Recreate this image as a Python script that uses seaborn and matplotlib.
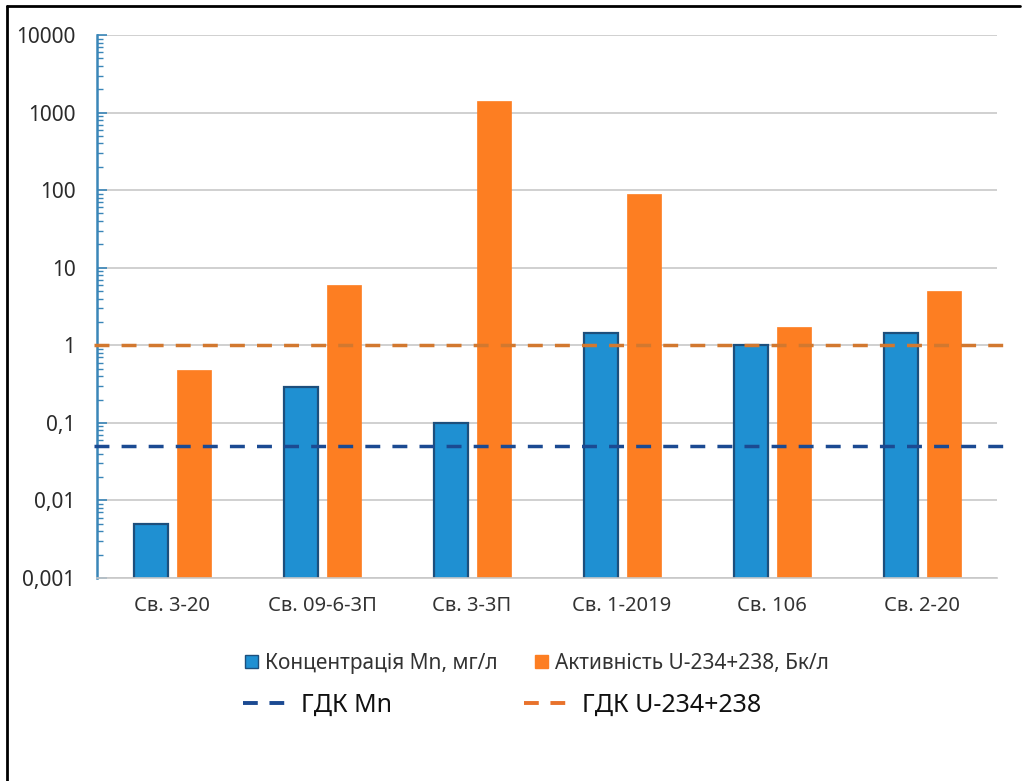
import matplotlib
matplotlib.use("Agg")
import matplotlib.pyplot as plt
from matplotlib.patches import Patch
from matplotlib.lines import Line2D
from matplotlib.ticker import LogLocator, NullFormatter
import seaborn as sns
import pandas as pd

# Data
wells = ["Св. 3-20", "Св. 09-6-3П", "Св. 3-3П", "Св. 1-2019", "Св. 106", "Св. 2-20"]
mn_conc = [0.005, 0.29, 0.1, 1.43, 1.0, 1.43]
u_activity = [0.48, 6.0, 1400, 90, 1.72, 5.0]
series_names = ["Концентрація Mn, мг/л", "Активність U-234+238, Бк/л"]
limit_names = ["ГДК Mn", "ГДК U-234+238"]
limit_mn = 0.05
limit_u = 1.0
y_ticks = [0.001, 0.01, 0.1, 1, 10, 100, 1000, 10000]
y_tick_labels = ["0,001", "0,01", "0,1", "1", "10", "100", "1000", "10000"]

df = pd.DataFrame({
    "well": wells * 2,
    "series": [series_names[0]] * len(wells) + [series_names[1]] * len(wells),
    "value": mn_conc + u_activity,
})

sns.set_theme(style="white")
plt.rcParams["font.family"] = ["Noto Sans", "DejaVu Sans"]

BLUE = "#1f90d2"
BLUE_EDGE = "#1d4f7c"
ORANGE = "#fd7e22"
MN_LINE = "#1b4a92"
U_LINE = "#d2782f"
AXIS_BLUE = "#3a86b8"

fig = plt.figure(figsize=(10.29, 7.81), dpi=100)
ax = fig.add_axes([0.0943, 0.2599, 0.8747, 0.6953])
ax.set_yscale("log")

sns.barplot(data=df, x="well", y="value", hue="series", order=wells,
            hue_order=series_names, palette=[BLUE, ORANGE],
            width=0.573, gap=0.21, ax=ax, legend=False, saturation=1)

for patch in ax.patches:
    fc = patch.get_facecolor()
    if abs(fc[2] - matplotlib.colors.to_rgb(BLUE)[2]) < 0.05:
        patch.set_edgecolor(BLUE_EDGE)
        patch.set_linewidth(1.6)
    else:
        patch.set_edgecolor(ORANGE)
        patch.set_linewidth(0.5)

ax.set_xlim(-0.5, 5.5)
ax.set_ylim(0.001, 10000)
ax.set_yticks(y_ticks, y_tick_labels)
ax.yaxis.set_minor_locator(LogLocator(base=10, subs=range(2, 10), numticks=20))
ax.yaxis.set_minor_formatter(NullFormatter())
ax.grid(axis="y", which="major", color="#c8c8c8", linewidth=1.2, zorder=0)
ax.set_axisbelow(True)

ax.tick_params(axis="y", which="both", left=True)
ax.tick_params(axis="y", which="major", direction="in", length=7, width=1.2,
               color=AXIS_BLUE, labelsize=15, labelcolor="#2b2b2b", pad=15.5)
ax.tick_params(axis="y", which="minor", direction="in", length=4, width=1.0,
               color=AXIS_BLUE)
ax.tick_params(axis="x", bottom=False, length=0, labelsize=14.5,
               labelcolor="#333333", pad=13)
ax.set_xlabel("")
ax.set_ylabel("")

for s in ["top", "right"]:
    ax.spines[s].set_visible(False)
ax.spines["left"].set_color(AXIS_BLUE)
ax.spines["left"].set_linewidth(1.8)
ax.spines["bottom"].set_color("#c8c8c8")
ax.spines["bottom"].set_linewidth(1.2)

# Limit lines, running a little past the plotting area
dash = (4.3, 3.5)
ax.plot([-0.52, 5.6], [limit_u, limit_u], color=U_LINE, lw=2.5,
        dashes=dash, clip_on=False, zorder=4)
ax.plot([-0.52, 5.6], [limit_mn, limit_mn], color=MN_LINE, lw=2.5,
        dashes=dash, clip_on=False, zorder=4)

# Legends: bars on the first row, limit lines on the second
bar_handles = [Patch(facecolor=BLUE, edgecolor=BLUE_EDGE, linewidth=1),
               Patch(facecolor=ORANGE, edgecolor=ORANGE, linewidth=1)]
fig.legend(bar_handles, series_names, loc="center",
           bbox_to_anchor=(0.522, 0.151), ncol=2, frameon=False,
           fontsize=15, handlelength=0.6, handleheight=0.6,
           handletextpad=0.35, columnspacing=1.8, labelcolor="#333333")
line_handles = [Line2D([0], [0], color=MN_LINE, lw=2.8, dashes=(3.8, 3.0)),
                Line2D([0], [0], color="#e8722b", lw=2.8, dashes=(3.8, 3.0))]
fig.legend(line_handles, limit_names, loc="center",
           bbox_to_anchor=(0.488, 0.097), ncol=2, frameon=False,
           fontsize=18, handlelength=1.8, handletextpad=0.52,
           columnspacing=5.3, labelcolor="#111111")

# Outer frame on the left and top
fig.add_artist(Line2D([7 / 1029, 7 / 1029], [0, 1 - 6 / 781],
                      transform=fig.transFigure, color="black", lw=2))
fig.add_artist(Line2D([7 / 1029, 1020 / 1029], [1 - 6 / 781, 1 - 6 / 781],
                      transform=fig.transFigure, color="black", lw=2))

fig.savefig("out.png", dpi=100, facecolor="white")
